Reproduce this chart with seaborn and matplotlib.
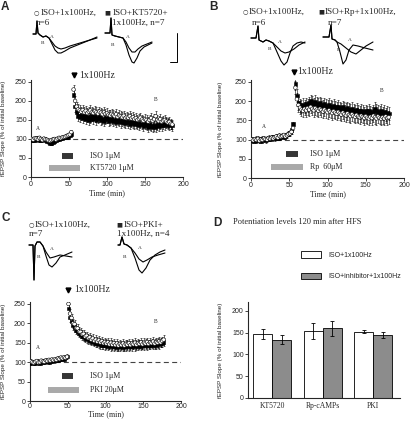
import numpy as np
import pandas as pd
import matplotlib
matplotlib.use("Agg")
import matplotlib.pyplot as plt
import seaborn as sns

sns.set_style("ticks")
SERIF = ['Liberation Serif', 'DejaVu Serif', 'DejaVu Sans']
SANS = ['Liberation Sans', 'DejaVu Sans']
plt.rcParams['font.family'] = SERIF
plt.rcParams['axes.linewidth'] = 0.8

# ---------------- data: panel A (KT5720) ----------------
A_base_iso = [100, 98, 102, 101, 99, 103, 100, 97, 101, 99, 98, 96, 95, 97, 99, 100, 98, 101, 103, 102,
              104, 105, 106, 108, 110, 112, 118]
A_base_inh = [97, 99, 96, 100, 102, 98, 97, 99, 101, 98, 95, 93, 90, 88, 92, 95, 97, 99, 100, 102,
              101, 104, 105, 107, 106, 110, 113]
A_post_iso = [230, 200, 185, 178, 175, 172, 176, 170, 174, 168, 172, 175, 170, 168, 173, 170, 167, 172, 169, 165,
              170, 166, 168, 164, 162, 166, 163, 160, 165, 158, 162, 160, 157, 161, 155, 158, 156, 160, 154, 157,
              152, 155, 150, 153, 156, 151, 148, 152, 150, 146, 150, 155, 148, 152, 160, 150, 147, 152, 145, 148,
              150, 146, 143, 145, 140, 138]
A_post_inh = [215, 185, 170, 160, 158, 162, 155, 160, 152, 158, 150, 155, 160, 152, 157, 150, 155, 158, 150, 153,
              148, 152, 155, 147, 150, 152, 146, 149, 145, 150, 147, 143, 148, 145, 141, 146, 143, 140, 145, 142,
              138, 143, 140, 136, 141, 138, 134, 139, 136, 132, 137, 134, 130, 135, 132, 136, 133, 138, 135, 140,
              137, 142, 139, 136, 138, 135]
A_sem_base, A_sem_post = 5, 13

# ---------------- data: panel B (Rp-cAMPs) ----------------
B_base_iso = [100, 98, 101, 99, 102, 97, 100, 99, 103, 101, 100, 104, 102, 105, 103, 106, 108, 105, 110, 107,
              109, 112, 108, 111, 114, 116, 120, 130]
B_base_inh = [98, 100, 97, 102, 99, 101, 96, 103, 100, 98, 102, 105, 101, 104, 107, 103, 106, 109, 104, 108,
              111, 107, 110, 113, 115, 118, 125, 140]
B_post_iso = [235, 205, 190, 183, 178, 175, 180, 176, 182, 178, 185, 180, 176, 182, 178, 175, 180, 177, 173, 178,
              174, 171, 176, 172, 169, 174, 170, 167, 172, 168, 165, 170, 166, 163, 168, 164, 161, 166, 162, 159,
              164, 160, 158, 162, 159, 156, 161, 157, 155, 159, 156, 162, 158, 155, 160, 157, 154, 158, 155, 160,
              156, 158]
B_post_inh = [245, 215, 195, 188, 185, 190, 186, 192, 188, 195, 200, 196, 192, 198, 194, 190, 195, 191, 187, 192,
              188, 185, 190, 186, 183, 188, 184, 181, 186, 182, 179, 184, 180, 177, 182, 178, 175, 180, 176, 173,
              178, 174, 171, 176, 172, 169, 174, 170, 175, 171, 168, 173, 180, 176, 172, 170, 175, 168, 172, 166,
              170, 168]
B_sem_base, B_sem_post = 6, 17

# ---------------- data: panel C (PKI) ----------------
C_base_iso = [102, 100, 98, 101, 103, 99, 100, 104, 102, 101, 105, 103, 106, 104, 107, 105, 108, 106, 110, 108,
              112, 110, 113, 111, 114]
C_base_inh = [98, 101, 99, 97, 100, 102, 98, 101, 103, 100, 102, 104, 101, 105, 103, 106, 104, 107, 105, 109,
              107, 111, 109, 112, 115]
C_post_iso = [250, 225, 214, 200, 198, 188, 187, 179, 178, 172, 173, 166, 168, 162, 164, 158, 161, 155, 158, 153,
              156, 151, 154, 149, 152, 148, 151, 146, 150, 145, 149, 144, 148, 143, 147, 144, 148, 143, 147, 145,
              149, 144, 148, 146, 150, 145, 149, 147, 151, 146, 150, 148, 152, 147, 151, 149, 153, 148, 152, 150,
              154, 151, 155, 158]
C_post_inh = [238, 215, 205, 195, 190, 183, 180, 175, 172, 168, 166, 163, 161, 159, 157, 155, 154, 152, 150, 149,
              148, 146, 145, 144, 143, 145, 142, 144, 141, 143, 140, 142, 139, 141, 140, 142, 139, 141, 140, 143,
              140, 142, 141, 144, 141, 143, 142, 145, 142, 144, 143, 146, 143, 145, 144, 147, 144, 146, 145, 148,
              146, 149, 150, 152]
C_sem_base, C_sem_post = 5, 11

# ---------------- data: panel D ----------------
drugs = ["KT5720", "Rp-cAMPs", "PKI"]
conds = ["ISO+1x100Hz", "ISO+inhibitor+1x100Hz"]
iso_means = [146, 154, 152]
iso_errs = [11, 19, 4]
inh_means = [134, 160, 145]
inh_errs = [11, 17, 7]

# ---------------- data: example traces (ms, mV) ----------------
trA1_t = [0, 0.75, 1.0, 1.25, 1.75, 2.5, 3.25, 4.0, 4.75, 5.5, 6.25, 7.0, 8.0, 9.25, 11.75, 14.25, 16.0]
trA1_v = [0, 0, 0.65, 0.05, -0.05, -0.15, -0.1, -0.2, -0.4, -0.6, -0.7, -0.75, -0.7, -0.6, -0.45, -0.3, -0.2]
trA2_t = [0, 0.75, 1.0, 1.25, 1.75, 2.5, 3.25, 4.0, 4.75, 5.5, 6.25, 7.0, 8.0, 9.25, 11.75, 14.25, 16.0]
trA2_v = [0, 0, 0.65, 0.05, -0.05, -0.15, -0.1, -0.2, -0.5, -0.8, -0.95, -0.95, -0.85, -0.7, -0.5, -0.3, -0.15]
trA3_t = [0, 1.25, 1.5, 1.75, 2.5, 3.5, 4.5, 5.25, 6.0, 6.75, 7.5, 8.25, 9.25, 10.5, 11.75]
trA3_v = [0, 0, 0.75, -0.1, -0.15, -0.2, -0.25, -0.45, -0.75, -0.95, -0.95, -0.8, -0.65, -0.55, -0.45]
trA4_t = [0, 1.25, 1.5, 1.75, 2.5, 3.5, 4.5, 5.25, 6.0, 6.75, 7.25, 8.0, 8.75, 9.75, 10.75, 11.75]
trA4_v = [0, 0, 0.75, -0.1, -0.15, -0.2, -0.25, -0.6, -1.1, -1.45, -1.5, -1.25, -0.9, -0.7, -0.6, -0.5]

trB1_t = [0, 1.25, 1.75, 2.0, 3.0, 3.75, 4.5, 5.5, 6.5, 7.5, 8.5, 9.5, 10.75, 12.0, 13.5]
trB1_v = [0, 0, 0.6, -0.1, -0.2, -0.1, -0.15, -0.25, -0.45, -0.65, -0.75, -0.7, -0.55, -0.35, -0.2]
trB2_t = [0, 1.25, 1.75, 2.0, 3.0, 3.75, 4.5, 5.5, 6.5, 7.5, 8.25, 9.0, 9.75, 10.5, 11.5, 12.5, 13.5]
trB2_v = [0, 0, 0.6, -0.1, -0.2, -0.1, -0.15, -0.25, -0.7, -1.15, -1.35, -1.2, -0.75, -0.4, -0.25, -0.2, -0.25]
trB3_t = [0, 1.5, 2.0, 2.25, 3.0, 3.5, 4.25, 5.0, 5.75, 6.5, 7.5, 8.75, 10.5, 12.5]
trB3_v = [0, 0, 0.6, -0.1, -0.15, -0.25, -0.75, -1.35, -1.15, -0.65, -0.4, -0.45, -0.55, -0.65]
trB4_t = [0, 1.5, 2.0, 2.25, 3.0, 3.5, 4.5, 5.75, 7.0, 8.25, 9.5, 10.75, 12.5]
trB4_v = [0, 0, 0.6, -0.1, -0.15, -0.25, -0.35, -0.55, -0.75, -0.85, -0.65, -0.45, -0.25]

trC1_t = [0, 1.0, 1.25, 1.5, 2.0, 2.75, 3.5, 4.25, 5.25, 6.25, 7.75, 9.25, 10.75]
trC1_v = [0, 0, -1.75, -0.05, 0.15, 0.15, -0.05, -0.35, -0.65, -0.6, -0.5, -0.55, -0.6]
trC2_t = [0, 1.0, 1.25, 1.5, 2.0, 2.75, 3.5, 4.25, 5.0, 5.75, 6.75, 7.75, 9.0, 10.75]
trC2_v = [0, 0, -1.75, -0.05, 0.15, 0.15, -0.05, -0.55, -1.0, -1.1, -0.9, -0.6, -0.5, -0.35]
trC3_t = [0, 0.5, 1.0, 1.5, 2.25, 3.25, 4.25, 5.25, 6.0, 7.0, 8.0, 9.25, 10.5, 11.75]
trC3_v = [0, 0, 0.4, 0.05, 0, -0.15, -0.65, -1.25, -1.4, -1.15, -0.75, -0.5, -0.35, -0.25]
trC4_t = [0, 0.5, 1.0, 1.5, 2.25, 3.25, 4.25, 5.25, 6.25, 7.25, 8.5, 10.0, 11.75]
trC4_v = [0, 0, 0.4, 0.05, 0, -0.15, -0.4, -0.7, -0.85, -0.75, -0.6, -0.5, -0.4]

# ---------------- figure helpers ----------------
W, H = 416, 421
fig = plt.figure(figsize=(W / 100, H / 100), dpi=100)


def px_axes(l, t, r, b):
    return fig.add_axes([l / W, 1 - b / H, (r - l) / W, (b - t) / H])


def ftext(x, y, s, **kw):
    kw.setdefault('va', 'center')
    fig.text(x / W, 1 - y / H, s, **kw)


def series_frame(base_start, post_start, base_iso, base_inh, post_iso, post_inh, sem_b, sem_p):
    parts = []
    for grp, b, p in (("inh", base_inh, post_inh), ("iso", base_iso, post_iso)):
        tb = base_start + 2 * np.arange(len(b))
        tp = post_start + 2 * np.arange(len(p))
        parts.append(pd.DataFrame({"time": tb, "slope": b, "err": sem_b, "group": grp}))
        parts.append(pd.DataFrame({"time": tp, "slope": p, "err": sem_p, "group": grp}))
    return pd.concat(parts, ignore_index=True)


def ts_panel(box, df, hfs, iso_app, drug_app, drug_label, lab_A, lab_B, ylab_x, tight=False):
    ax = px_axes(*box)
    ax.axhline(100, color='#444444', lw=0.8, ls=(0, (4.5, 3)), zorder=1)
    for g in ("inh", "iso"):
        d = df[df["group"] == g]
        ax.errorbar(d["time"], d["slope"], yerr=d["err"], fmt='none', ecolor='black',
                    elinewidth=0.4, capsize=0.8, capthick=0.4, zorder=2)
    sns.scatterplot(data=df, x="time", y="slope", hue="group", style="group",
                    markers={"iso": "o", "inh": "s"}, palette={"iso": "white", "inh": "black"},
                    edgecolor="black", linewidth=0.4, s=7, legend=False, ax=ax, zorder=3)
    ax.set_xlim(0, 200)
    ax.set_ylim(0, 255)
    ax.set_xticks([0, 50, 100, 150, 200])
    ax.set_yticks([0, 50, 100, 150, 200, 250])
    sns.despine(ax=ax)
    ax.tick_params(labelsize=5, length=2, width=0.6, pad=1)
    if tight:
        ax.tick_params(axis='x', length=1.5, pad=0.3)
    for lab in ax.get_xticklabels() + ax.get_yticklabels():
        lab.set_family(SANS)
    ax.set_xlabel("Time (min)", fontsize=5.8, family=SERIF, labelpad=0 if tight else 1)
    ax.set_ylabel("fEPSP Slope (% of initial baseline)", fontsize=4.5, family=SANS)
    ax.yaxis.set_label_coords(ylab_x, 0.5)
    # drug application bars
    ax.plot(iso_app[:2], [iso_app[2]] * 2, color='#363636', lw=4.3, solid_capstyle='butt', zorder=4)
    ax.plot(drug_app[:2], [drug_app[2]] * 2, color='#a9a9a9', lw=4.3, solid_capstyle='butt', zorder=4)
    ax.text(drug_app[3], iso_app[2], "ISO 1\u03bcM", fontsize=5.8, va='center', family=SERIF)
    ax.text(drug_app[3], drug_app[2], drug_label, fontsize=5.8, va='center', family=SERIF)
    # HFS marker
    ax.plot([hfs[0]], [hfs[1]], marker='v', color='black', ms=3.5, clip_on=False)
    ax.text(hfs[2], hfs[1], "1x100Hz", fontsize=7, va='center', family=SERIF, clip_on=False)
    ax.text(lab_A[0], lab_A[1], "A", fontsize=4, ha='center', va='center')
    ax.text(lab_B[0], lab_B[1], "B", fontsize=4, ha='center', va='center')
    return ax


def trace_inset(left, baseline, traces, labA, labB):
    top = baseline - 16
    ax = px_axes(left, top, left + 64, top + 54)
    for t, v in traces:
        ax.plot(t, v, color='black', lw=0.8, clip_on=False)
    ax.set_xlim(0, 16)
    ax.set_ylim(-1.9, 0.8)
    ax.axis('off')
    ax.text(labA[0], labA[1], "A", fontsize=3.8, ha='center', va='center')
    ax.text(labB[0], labB[1], "B", fontsize=3.8, ha='center', va='center')
    return ax


# ---------------- panel A ----------------
dfA = series_frame(1, 56, A_base_iso, A_base_inh, A_post_iso, A_post_inh, A_sem_base, A_sem_post)
ts_panel((31, 80, 183, 177), dfA, (57, 268, 64), (41, 55, 56), (24, 65, 24, 78),
         "KT5720 1\u03bcM", (9, 127), (164, 205), -0.165)
trace_inset(33, 34, [(trA1_t, trA1_v), (trA2_t, trA2_v)], (4.75, -0.15), (2.5, -0.45))
axAr = trace_inset(105, 33, [(trA3_t, trA3_v), (trA4_t, trA4_v)], (5.75, -0.2), (2.0, -0.6))
axAr.plot([16.25, 18, 18], [-1.45, -1.45, 0], color='black', lw=0.7, clip_on=False)

# ---------------- panel B ----------------
dfB = series_frame(1, 58, B_base_iso, B_base_inh, B_post_iso, B_post_inh, B_sem_base, B_sem_post)
ts_panel((251, 80, 404, 178), dfB, (56, 276, 61), (46, 61, 62), (26, 68, 29, 77),
         "Rp  60\u03bcM", (17, 133), (171, 227), -0.18)
trace_inset(251, 38, [(trB1_t, trB1_v), (trB2_t, trB2_v)], (7.25, -0.2), (4.75, -0.55))
trace_inset(323, 37, [(trB3_t, trB3_v), (trB4_t, trB4_v)], (6.75, -0.15), (4.0, -0.65))

# ---------------- panel C ----------------
dfC = series_frame(1, 51, C_base_iso, C_base_inh, C_post_iso, C_post_inh, C_sem_base, C_sem_post)
ts_panel((30, 302, 181, 401), dfC, (50, 286, 58), (42, 57, 64), (24, 65, 28, 79),
         "PKI 20\u03bcM", (11, 137), (167, 206), -0.16, tight=True)
trace_inset(29, 245, [(trC1_t, trC1_v), (trC2_t, trC2_v)], (5.75, -0.2), (2.5, -0.6))
trace_inset(118, 245, [(trC3_t, trC3_v), (trC4_t, trC4_v)], (5.5, -0.15), (1.75, -0.6))

# ---------------- panel D ----------------
axD = px_axes(248, 302, 400, 398)
dfD = pd.DataFrame({"drug": drugs * 2,
                    "cond": [conds[0]] * 3 + [conds[1]] * 3,
                    "value": iso_means + inh_means})
sns.barplot(data=dfD, x="drug", y="value", hue="cond", palette=["white", "#8c8c8c"],
            edgecolor="black", linewidth=0.6, width=0.75, errorbar=None, saturation=1, ax=axD)
for cont, means, errs in zip(axD.containers, [iso_means, inh_means], [iso_errs, inh_errs]):
    xs = [b.get_x() + b.get_width() / 2 for b in cont]
    axD.errorbar(xs, means, yerr=errs, fmt='none', ecolor='black', elinewidth=0.6,
                 capsize=1.6, capthick=0.6)
axD.set_xlim(-0.475, 2.53)
axD.set_ylim(0, 220)
axD.set_yticks([0, 50, 100, 150, 200])
sns.despine(ax=axD)
axD.tick_params(axis='y', labelsize=5, length=2, width=0.6, pad=1)
axD.tick_params(axis='x', labelsize=5.5, length=0, pad=3)
for lab in axD.get_yticklabels():
    lab.set_family(SANS)
for lab in axD.get_xticklabels():
    lab.set_family(SERIF)
axD.set_xlabel("")
axD.set_ylabel("fEPSP Slope (% of initial baseline)", fontsize=4.5, family=SANS)
axD.yaxis.set_label_coords(-0.165, 0.5)
h, l = axD.get_legend_handles_labels()
axD.legend(h, l, loc='upper left', bbox_to_anchor=(301 / W, 1 - 251 / H), bbox_transform=fig.transFigure,
           frameon=False, prop=dict(family=SANS, size=5), handlelength=2.9, handleheight=1.1,
           labelspacing=2.0, handletextpad=1.0, borderpad=0, borderaxespad=0)

# ---------------- figure texts ----------------
bold = dict(fontsize=8.5, fontweight='bold', family=SANS, va='top')
ftext(1, 1, "A", **bold)
ftext(209, 1, "B", **bold)
ftext(1, 212, "C", **bold)
ftext(213, 217, "D", **bold)
ftext(233, 222, "Potentiation levels 120 min after HFS", fontsize=6, family=SERIF)

leg = dict(fontsize=6.6, family=SERIF)
sym = dict(fontsize=4.5, family=['DejaVu Sans'], ha='center')
ftext(36, 13, "\u25cb", **sym); ftext(41, 13, "ISO+1x100Hz,", **leg); ftext(36, 23, "n=6", **leg)
ftext(107, 13, "\u25a0", **sym); ftext(113, 13, "ISO+KT5720+", **leg); ftext(112, 23, "1x100Hz, n=7", **leg)
ftext(245, 12, "\u25cb", **sym); ftext(249, 12, "ISO+1x100Hz,", **leg); ftext(252, 23, "n=6", **leg)
ftext(321, 12, "\u25a0", **sym); ftext(325, 12, "ISO+Rp+1x100Hz,", **leg); ftext(328, 23, "n=7", **leg)
ftext(31, 225, "\u25cb", **sym); ftext(35, 225, "ISO+1x100Hz,", **leg); ftext(29, 234, "n=7", **leg)
ftext(119, 225, "\u25a0", **sym); ftext(124, 225, "ISO+PKI+", **leg); ftext(117, 234, "1x100Hz, n=4", **leg)

fig.savefig("out.png", dpi=100)
